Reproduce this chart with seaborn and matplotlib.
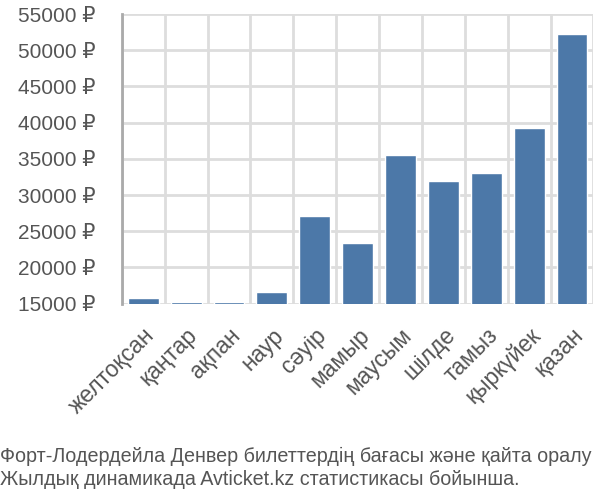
import numpy as np
import pandas as pd
import seaborn as sns
import matplotlib.pyplot as plt
from matplotlib.ticker import FixedLocator

# chart data
months = ["желтоқсан", "қаңтар", "ақпан", "наур", "сәуір", "мамыр",
          "маусым", "шілде", "тамыз", "қыркүйек", "қазан"]
prices = [15800, 15250, 15250, 16600, 27100, 23400,
          35600, 32000, 33000, 39200, 52300]
y_ticks = [15000, 20000, 25000, 30000, 35000, 40000, 45000, 50000, 55000]
caption = ("Форт-Лодердейла Денвер билеттердің бағасы және қайта оралу\n"
           "Жылдық динамикада Avticket.kz статистикасы бойынша.")

df = pd.DataFrame({"month": months, "price": prices})

sns.set_style("white")
plt.rcParams["font.family"] = ["Liberation Sans", "DejaVu Sans"]

fig = plt.figure(figsize=(6, 5), dpi=100)
ax = fig.add_axes([0.203, 0.392, 0.786, 0.58])

sns.barplot(data=df, x="month", y="price", color="#4c78a8", width=0.72,
            saturation=1, ax=ax)

text_col = "#555555"
grid_col = "#dddddd"

ax.set_ylim(14960, 55000)
ax.set_xlim(-0.5, len(months) - 0.5)
ax.set_yticks(y_ticks)
ax.set_yticklabels([f"{v} ₽" for v in y_ticks])
ax.set_xlabel("")
ax.set_ylabel("")

# vertical lines between bars, labels at bar centres
ax.xaxis.set_minor_locator(FixedLocator(np.arange(-0.5, len(months), 1.0)))
ax.tick_params(axis="x", which="major", length=0, pad=14, labelsize=16.5,
               labelcolor=text_col)
ax.tick_params(axis="x", which="minor", length=16, width=2, color=grid_col)
ax.tick_params(axis="y", length=18, width=1.5, color=grid_col, labelsize=15,
               labelcolor=text_col, pad=1)
plt.setp(ax.get_xticklabels(), rotation=45, ha="right", rotation_mode="anchor")

ax.set_axisbelow(True)
ax.grid(axis="y", color=grid_col, linewidth=2)
ax.grid(axis="x", which="minor", color=grid_col, linewidth=2)
ax.grid(axis="x", which="major", visible=False)

for side in ["top", "right", "bottom"]:
    ax.spines[side].set_visible(False)
ax.spines["left"].set_color("#aaaaaa")
ax.spines["left"].set_linewidth(2)

fig.text(0.0, 0.022, caption, fontsize=14.2, color=text_col,
         ha="left", va="bottom", linespacing=1.3)

fig.savefig("out.png", dpi=100)
